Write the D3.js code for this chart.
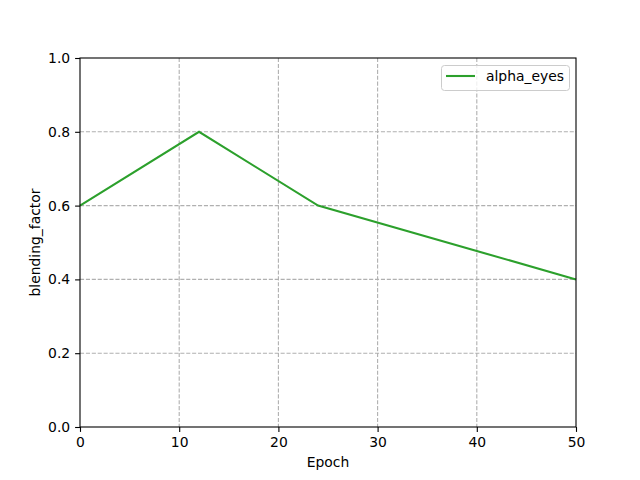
<!DOCTYPE html>
<html><head><meta charset="utf-8">
<script src="https://cdn.jsdelivr.net/npm/d3@7/dist/d3.min.js"></script>
<style>body{margin:0;background:#fff}svg{display:block}text{font-family:"DejaVu Sans",sans-serif}</style>
</head><body>
<svg id="c" width="640" height="480"></svg>
<script>
const epochs = [0, 12, 24, 50];
const alphaEyes = [0.6, 0.8, 0.6, 0.4];
const xTicks = [0, 10, 20, 30, 40, 50];
const yTicks = [0.0, 0.2, 0.4, 0.6, 0.8, 1.0];
const seriesName = "alpha_eyes";

const svg = d3.select("#c");
const L = 80, R = 576, T = 58, B = 427;
const x = d3.scaleLinear().domain([0, 50]).range([L, R]);
const y = d3.scaleLinear().domain([0, 1]).range([B, T]);
const green = "#2ca02c";
const fs = 13.9;

// grid (interior only)
const g = svg.append("g");
g.selectAll(".gx").data(xTicks.filter(d => d > 0 && d < 50)).join("line")
  .attr("x1", d => x(d)).attr("x2", d => x(d)).attr("y1", T).attr("y2", B)
  .attr("stroke", "#b0b0b0").attr("stroke-width", 1.1).attr("stroke-dasharray", "4.1,1.8");
g.selectAll(".gy").data(yTicks.filter(d => d > 0 && d < 1)).join("line")
  .attr("y1", d => y(d)).attr("y2", d => y(d)).attr("x1", L).attr("x2", R)
  .attr("stroke", "#b0b0b0").attr("stroke-width", 1.1).attr("stroke-dasharray", "4.1,1.8");

// line
svg.append("path").datum(epochs.map((e, i) => [e, alphaEyes[i]]))
  .attr("d", d3.line().x(d => x(d[0])).y(d => y(d[1])))
  .attr("fill", "none").attr("stroke", green).attr("stroke-width", 2.08);

// frame
svg.append("rect").attr("x", L).attr("y", T).attr("width", R - L).attr("height", B - T)
  .attr("fill", "none").attr("stroke", "#000").attr("stroke-width", 1.1);

// axes
const xa = svg.append("g").attr("transform", `translate(0,${B})`)
  .call(d3.axisBottom(x).tickValues(xTicks).tickFormat(d3.format("d")).tickSize(4.9).tickPadding(4.9));
const ya = svg.append("g").attr("transform", `translate(${L},0)`)
  .call(d3.axisLeft(y).tickValues(yTicks).tickFormat(d3.format(".1f")).tickSize(4.9).tickPadding(4.9));
[xa, ya].forEach(a => {
  a.select(".domain").remove();
  a.selectAll("line").attr("stroke", "#000").attr("stroke-width", 1.1);
  a.selectAll("text").attr("font-size", fs).attr("fill", "#000").style("font-family", "DejaVu Sans");
});

svg.append("text").attr("x", (L + R) / 2).attr("y", 467).attr("text-anchor", "middle")
  .attr("font-size", fs).text("Epoch");
svg.append("text").attr("transform", `translate(40,${(T + B) / 2}) rotate(-90)`)
  .attr("text-anchor", "middle").attr("font-size", fs).text("blending_factor");

// legend
const lg = svg.append("g");
lg.append("rect").attr("x", 441.5).attr("y", 65.5).attr("width", 128).attr("height", 25)
  .attr("rx", 3).attr("fill", "#fff").attr("fill-opacity", 0.8).attr("stroke", "#cccccc");
lg.append("line").attr("x1", 446).attr("x2", 475).attr("y1", 76).attr("y2", 76)
  .attr("stroke", green).attr("stroke-width", 2.08);
lg.append("text").attr("x", 486).attr("y", 81).attr("font-size", fs).text(seriesName);
</script>
</body></html>
